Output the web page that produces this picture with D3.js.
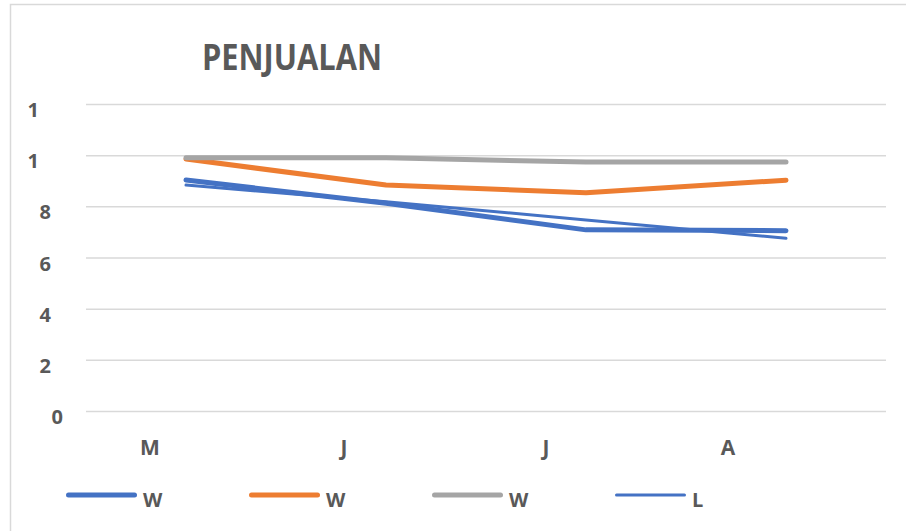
<!DOCTYPE html>
<html><head><meta charset="utf-8">
<script src="https://cdn.jsdelivr.net/npm/d3@7/dist/d3.min.js"></script>
<style>
html,body{margin:0;padding:0;background:#fff;}
svg{display:block;font-family:"Open Sans",sans-serif;}
</style></head>
<body>
<svg id="c" width="906" height="531"></svg>
<script>
// ---- data ----
const title = "PENJUALAN";
const categories = ["M", "J", "J", "A"];
const seriesNames = ["W", "W", "W", "L"];
const seriesA = [9.03, 8.12, 7.08, 7.05];
const seriesB = [9.85, 8.83, 8.53, 9.02];
const seriesC = [9.90, 9.90, 9.73, 9.73];
const seriesD = [8.83, 8.18, 7.47, 6.75];
const yTickValues = [0, 2, 4, 6, 8, 10, 12];
const yTickLabels = ["0", "2", "4", "6", "8", "1", "1"];

// ---- styles ----
const colors = ["#4472C4", "#ED7D31", "#A5A5A5", "#4472C4"];
const widths = [5, 5, 5, 3];
const textColor = "#595959";

const svg = d3.select("#c");
const seriesData = [seriesA, seriesB, seriesC, seriesD];

// chart border (right and bottom edges fall outside the view)
svg.append("rect").attr("x", 10.5).attr("y", 4.5).attr("width", 1000).attr("height", 1000)
  .attr("fill", "none").attr("stroke", "#d9d9d9").attr("stroke-width", 1.5);

const x = d3.scalePoint().domain(d3.range(categories.length)).range([86, 886]).padding(0.5);
const y = d3.scaleLinear().domain([0, 12]).range([411, 104]);

// title
svg.append("text").attr("x", 202).attr("y", 70).text(title)
  .attr("font-size", 35).attr("font-weight", 700).attr("fill", textColor)
  .attr("textLength", 180).attr("lengthAdjust", "spacingAndGlyphs");

// gridlines via axis
const gy = svg.append("g").attr("transform", "translate(86,0)")
  .call(d3.axisRight(y).tickValues(yTickValues).tickSize(800).tickFormat(""));
gy.select(".domain").remove();
gy.selectAll(".tick line").attr("stroke", "#d9d9d9").attr("stroke-width", 1.5);

// y labels
svg.append("g").selectAll("text").data(yTickValues).join("text")
  .attr("x", v => v === 0 ? 63 : (v >= 10 ? 39 : 51))
  .attr("y", v => y(v) + 6)
  .attr("dy", "0.35em")
  .attr("text-anchor", "end")
  .attr("font-size", 20).attr("font-weight", 700).attr("fill", textColor)
  .text((v, i) => yTickLabels[i]);

// x labels
const labelShift = [-36, -42, -40, -58];
svg.append("g").selectAll("text").data(categories).join("text")
  .attr("x", (c, i) => x(i) + labelShift[i])
  .attr("y", 448).attr("dy", "0.35em")
  .attr("text-anchor", "middle")
  .attr("font-size", 21).attr("font-weight", 700).attr("fill", textColor)
  .text(c => c);

// lines
const line = d3.line().x((v, i) => x(i)).y(v => y(v));
svg.append("g").selectAll("path").data(seriesData).join("path")
  .attr("d", d => line(d))
  .attr("fill", "none")
  .attr("stroke", (d, i) => colors[i])
  .attr("stroke-width", (d, i) => widths[i])
  .attr("stroke-linejoin", "round").attr("stroke-linecap", "round");

// legend
const lg = svg.append("g").selectAll("g").data(seriesNames).join("g")
  .attr("transform", (d, i) => `translate(${66 + i * 183},0)`);
lg.append("line").attr("x1", (d, i) => widths[i] / 2).attr("x2", (d, i) => 71 - widths[i] / 2)
  .attr("y1", 495).attr("y2", 495)
  .attr("stroke", (d, i) => colors[i]).attr("stroke-width", (d, i) => widths[i])
  .attr("stroke-linecap", "round");
lg.append("text").attr("x", 77).attr("y", 500).attr("dy", "0.35em")
  .attr("font-size", 20).attr("font-weight", 700).attr("fill", textColor)
  .text(d => d);
</script>
</body></html>
